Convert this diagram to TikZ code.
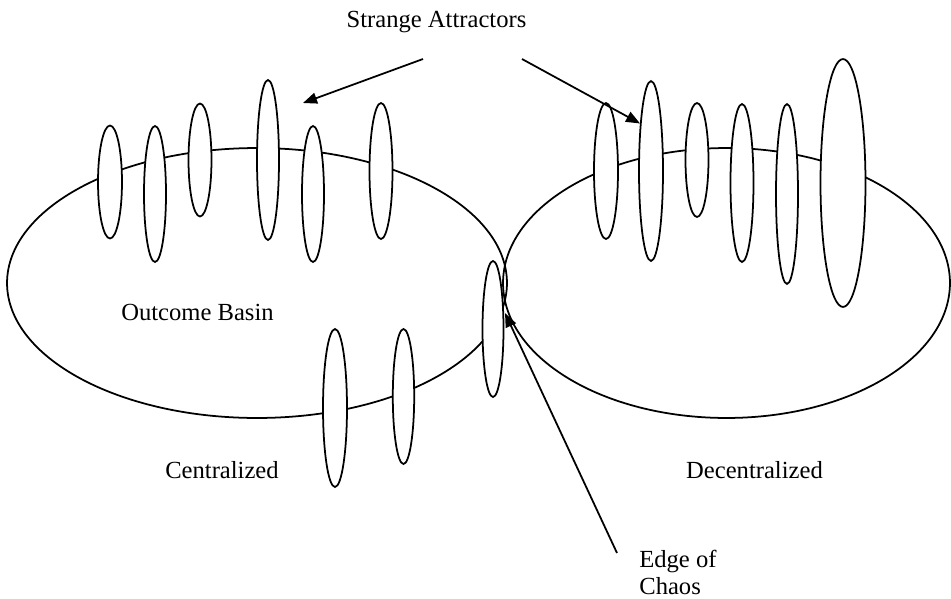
\documentclass[tikz,border=0pt]{standalone}
\usepackage{fontspec}
\setmainfont{Liberation Serif}
\usepackage{tikz}
\usetikzlibrary{arrows.meta,shapes.geometric}

\begin{document}
\begin{tikzpicture}[
  x=0.02cm, y=-0.02cm,
  basin/.style={ellipse, draw, line width=1pt, inner sep=0pt},
  att/.style 2 args={ellipse, draw, fill=white, line width=1pt, inner sep=0pt,
    minimum width=#1*0.04cm, minimum height=#2*0.04cm},
  lbl/.style={font=\fontsize{14}{15}\selectfont, inner sep=0pt},
  arr/.style={-{Triangle[length=0.28cm,width=0.22cm]}, line width=1pt}
]
\useasboundingbox (0,0) rectangle (951,599);
% outcome basins
\node[basin,minimum width=10cm,minimum height=5.4cm] (central) at (257,283) {};
\node[basin,minimum width=8.94cm,minimum height=5.4cm] (decentral) at (726.5,283) {};
% strange attractors, centralized side
\node[att={12}{56.5}] (a1) at (110,182) {};
\node[att={11}{68}] (a2) at (155,194) {};
\node[att={11.5}{56.5}] (a3) at (200,160) {};
\node[att={11}{80}] (a4) at (268,160) {};
\node[att={11}{68}] (a5) at (313,194) {};
\node[att={11.5}{68}] (a6) at (381,171) {};
\node[att={12}{79}] (c1) at (335,408) {};
\node[att={10.7}{67.5}] (c2) at (403.5,396.5) {};
% strange attractors, decentralized side
\node[att={12}{68}] (b1) at (606,171) {};
\node[att={12}{90}] (b2) at (651,171) {};
\node[att={11.5}{57}] (b3) at (697,160) {};
\node[att={11.5}{79}] (b4) at (742,183) {};
\node[att={11}{90}] (b5) at (787,194) {};
\node[att={22.5}{124}] (b6) at (843,183) {};
% edge of chaos
\node[att={10.5}{68}] (edge) at (493,329) {};
% labels
\node[lbl,anchor=base] (title) at (436.5,27) {Strange Attractors};
\node[lbl,anchor=base] (basinlbl) at (197.5,320) {Outcome Basin};
\node[lbl,anchor=base] (clbl) at (222,478) {Centralized};
\node[lbl,anchor=base] (dlbl) at (754.5,478) {Decentralized};
\node[lbl,anchor=north west,align=left] (chaos) at (639,550) {Edge of\\Chaos};
% arrows
\coordinate (sa1) at (423,59);
\coordinate (sa2) at (522,59);
\coordinate (tip1) at (303,103);
\coordinate (touch) at (505,313);
\coordinate (chaosfoot) at (617,553);
\draw[arr] (sa1) -- (tip1);
\draw[arr] (sa2) -- (b2.103);
\draw[arr] (chaosfoot) -- (touch);
\end{tikzpicture}
\end{document}
